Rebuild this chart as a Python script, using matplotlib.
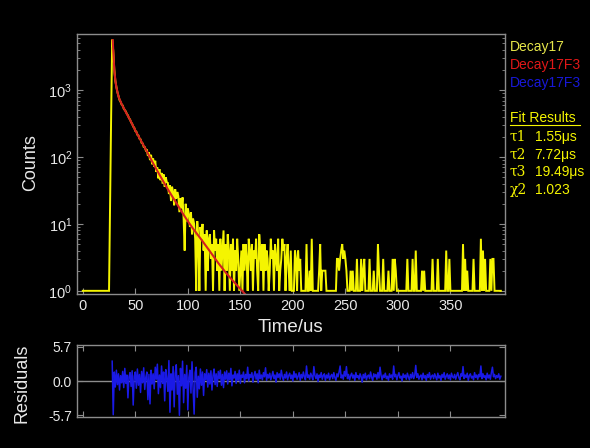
"""Fluorescence decay with triple-exponential fit and residuals."""

import matplotlib

matplotlib.use("Agg")
import matplotlib.pyplot as plt
import numpy as np
from matplotlib.ticker import FixedLocator, LogLocator, NullFormatter

# Decay counts, one bin per microsecond from t = 0 (zero counts shown as 1)
counts = (
    [1] * 25
    + [1, 20, 400, 5700]
    + [3900, 2050, 1380, 1120, 930, 820, 710, 670, 610, 590, 530, 505]
    + [480, 440, 420, 380, 365, 330, 315, 285, 275, 245]
    + [240, 215, 210, 188, 184, 163, 160, 142, 141, 126]
    + [130, 104, 118, 90, 108, 78, 95, 72, 88, 60]
    + [70, 48, 66, 45, 58, 40, 55, 36, 50, 42]
    + [41, 28, 38, 22, 36, 30, 19, 33, 24, 30]
    + [26, 15, 24, 17, 25, 12, 4, 20, 11, 17]
    + [14, 9, 15, 7, 12, 10, 6, 1, 11, 6]
    + [1, 9, 6, 10, 4, 7, 1, 8, 2, 6]
    + [7, 3, 5, 1, 8, 4, 6, 2, 5, 1]
    + [6, 2, 4, 8, 1, 5, 2, 7, 4, 1]
    + [5, 2, 6, 1, 4, 2, 6, 3, 1, 2]
    + [4, 1, 5, 2, 5, 3, 1, 6, 4, 2]
    + [5, 1, 4, 3, 6, 2, 1, 7, 4, 2]
    + [5, 1, 5, 2, 4, 3, 1, 2, 6, 3]
    + [4, 1, 5, 3, 2, 6, 1, 2, 3, 6]
    + [4, 5, 1, 3, 5, 2, 1, 4, 1, 1]
    + [1, 4, 3, 1, 4, 2, 3, 1, 1, 1]
    + [1, 1, 5, 1, 1, 2, 1, 6, 1, 1]
    + [1, 1, 1, 1, 2, 5, 1, 2, 2, 2]
    + [2, 1, 1, 1, 1, 1, 1, 1, 1, 1]
    + [1, 3, 3, 2, 3, 4, 5, 3, 4, 3]
    + [2, 1, 1, 1, 2, 1, 2, 1, 1, 1]
    + [3, 1, 1, 1, 3, 1, 2, 3, 1, 1]
    + [1, 1, 3, 1, 1, 1, 2, 1, 1, 1]
    + [5, 2, 1, 1, 1, 3, 1, 1, 1, 1]
    + [2, 1, 1, 1, 3, 1, 3, 2, 1, 1]
    + [1, 1, 1, 1, 1, 1, 1, 1, 3, 1]
    + [1, 1, 1, 3, 1, 1, 4, 1, 1, 1]
    + [1, 1, 2, 1, 2, 1, 1, 1, 1, 1]
    + [1, 1, 3, 1, 1, 1, 1, 3, 1, 1]
    + [1, 1, 1, 1, 1, 4, 1, 1, 3, 1]
    + [1, 1, 1, 1, 1, 1, 1, 1, 1, 1]
    + [1, 5, 1, 3, 1, 2, 1, 1, 1, 1]
    + [1, 3, 1, 1, 1, 1, 1, 1, 6, 1]
    + [4, 1, 3, 1, 1, 1, 1, 3, 1, 3]
    + [3, 1, 1, 1, 1, 1, 1, 1]
)

# Fit curve (Decay17F3)
fit_time = [28.5, 29, 30, 31, 32, 34, 37, 41, 45, 50, 55, 60, 65, 70, 75, 80,
            85, 90, 95, 100, 105, 113, 121, 129, 137, 145, 153, 160]
fit_counts = [5600, 4000, 2000, 1400, 1100, 800, 620, 470, 360, 250, 180, 130,
              92, 66, 48, 35, 26, 19.5, 14.5, 11, 8.5, 5.8, 3.9, 2.6, 1.8,
              1.3, 0.95, 0.7]

# Weighted residuals, one per microsecond from t = 28
residuals = [
    3.3, -5.6, 1.5, -1.0, 1.8, -0.6, 1.2, -1.5, 0.9, -0.3,
    1.6, -1.1, 2.1, -0.4, 1.0, -2.8, 0.7, 1.4, -0.9, 1.7,
    -4.0, 0.8, 1.5, -1.2, 2.0, -0.7, 1.1, -1.9, 1.6, -0.3,
    2.2, -1.4, 0.6, 1.5, -3.1, 1.1, -3.8, 1.8, -0.5, 1.2,
    -1.3, 2.3, 0.3, 2.8, -2.1, 1.0, -1.1, 2.5, -0.4, 1.5,
    -3.3, 1.9, 0.4, -1.7, 3.4, -5.2, 1.2, -1.5, 2.4, -4.3,
    1.3, 2.7, -2.2, 0.9, -5.7, 2.1, -0.8, 3.3, -3.6, 1.1,
    -1.2, 2.6, -4.8, 0.6, 1.8, -2.0, 3.2, -1.0, -5.5, 1.4,
    2.3, -2.7, 0.8, -1.3, 2.0, -0.7, 1.5, -2.4, 1.2, 0.2,
    1.9, -1.0, 1.3, -0.5, 1.7, -1.5, 0.9, 2.0, -0.6, 1.2,
    -0.9, 1.6, 0.4, 1.8, -0.7, 1.1, -1.1, 1.5, 0.3, 1.7,
    -0.5, 1.3, 0.2, 2.1, -0.8, 1.0, 0.5, 1.6, -0.4, 1.2,
    0.1, 1.8, -0.4, 1.0, 0.6, 1.5, -0.3, 1.1, 0.4, 2.3,
    0.0, 1.1, 0.6, 1.4, -0.2, 0.9, 1.6, 0.3, 1.2, -0.3,
    1.8, 0.4, 1.0, 0.2, 1.4, 0.7, 2.2, 0.1, 1.1, 0.5,
    1.3, 0.2, 0.8, 1.6, 0.4, 1.0, -0.2, 1.4, 0.6, 1.2,
    0.3, 1.8, 0.7, 0.1, 1.1, 0.5, 1.5, 0.2, 0.9, 1.3,
    0.4, 1.0, 0.0, 1.6, 0.6, 1.2, 0.3, 0.8, 1.4, 0.1,
    1.1, 0.5, 1.5, 0.7, 0.2, 2.5, 0.6, 1.0, 0.3, 1.3,
    0.8, 0.2, 2.4, 0.9, 0.4, 1.2, -0.1, 1.0, 0.6, 1.4,
    0.3, 0.9, 1.2, 0.1, 1.0, 0.5, 1.3, 0.2, 0.8, 1.1,
    0.4, 1.4, 0.6, 0.1, 1.2, 0.7, 1.5, 2.5, 0.5, 1.0,
    0.3, 1.6, 0.8, 2.4, 0.4, 1.1, 0.2, 0.9, 1.3, 0.5,
    1.0, 0.1, 1.4, 0.6, 0.9, 0.3, 1.2, 0.7, -0.2, 1.1,
    0.5, 1.3, 0.2, 0.8, 1.0, 0.4, 1.5, 0.6, 0.1, 1.2,
    0.7, 1.1, 0.3, 1.4, 0.5, 2.3, 0.9, 0.2, 1.0, 0.6,
    1.3, 0.4, 0.8, 0.1, 1.2, 0.6, 1.0, 0.3, 2.5, 0.7,
    1.1, 0.2, 0.9, 1.4, 0.5, 0.8, 0.0, 1.2, 0.6, 1.0,
    0.3, 1.3, 0.7, 0.2, 1.1, 0.5, 1.4, 0.4, 0.9, 2.6,
    0.6, 1.2, 0.3, 0.8, 1.0, 0.2, 1.3, 0.5, 0.9, 0.1,
    1.1, 0.6, 1.4, 0.3, 0.8, 1.0, 0.4, 1.2, 0.7, 0.2,
    1.3, 0.5, 0.9, 0.1, 1.1, 0.6, 1.4, 0.3, 0.8, 1.2,
    0.4, 1.0, 0.2, 1.3, 0.7, 0.5, 1.1, 0.3, 0.9, 1.4,
    0.6, 0.2, 1.2, 0.8, 2.4, 0.4, 1.0, 0.6, 1.3, 0.1,
    0.9, 1.2, 0.5, 0.8, 0.2, 1.4, 0.6, 1.0, 0.3, 1.1,
    0.7, 2.5, 0.4, 1.2, 0.6, 0.9, 0.2, 1.3, 0.5, 1.0,
    0.3, 1.4, 2.3, 0.7, 1.1, 0.4, 0.9, 0.6, 1.2, 0.3,
    0.8,
]

legend_entries = [("Decay17", "#e6e64a"), ("Decay17F3", "#e01818"), ("Decay17F3", "#1818d8")]
fit_labels = ["τ1", "τ2", "τ3", "χ2"]
fit_values = ["1.55μs", "7.72μs", "19.49μs", "1.023"]

FRAME = "#8c8c8c"
TEXT = "#e8e8e8"
YELLOW = "#f5f500"

plt.rcParams["font.family"] = ["Liberation Sans", "DejaVu Sans"]
plt.rcParams["mathtext.fontset"] = "custom"
plt.rcParams["mathtext.rm"] = "Liberation Sans"

fig = plt.figure(figsize=(5.9, 4.48), dpi=100, facecolor="black")
ax = fig.add_axes([0.1305, 0.344, 0.7255, 0.580], facecolor="black")
ax_res = fig.add_axes([0.1305, 0.069, 0.7255, 0.161], facecolor="black")

time = np.arange(len(counts))
ax.plot(time, counts, color=YELLOW, linewidth=1.4, solid_joinstyle="miter")
ax.plot(fit_time, fit_counts, color="#d42020", linewidth=1.5)
ax.set_yscale("log")
ax.set_xlim(-5.5, 402)
ax.set_ylim(0.9, 6900)
ax.set_xticks(np.arange(0, 400, 50))
ax.yaxis.set_major_locator(LogLocator(base=10))
ax.yaxis.set_minor_locator(LogLocator(base=10, subs=np.arange(2, 10)))
ax.yaxis.set_minor_formatter(NullFormatter())

res_time = np.arange(28, 28 + len(residuals))
ax_res.axhline(0, color=FRAME, linewidth=1.0)
ax_res.plot(res_time, residuals, color="#1a1ae6", linewidth=1.1)
ax_res.set_xlim(-5.5, 402)
ax_res.set_ylim(-6.0, 6.0)
ax_res.yaxis.set_major_locator(FixedLocator([-5.7, 0.0, 5.7]))
ax_res.set_yticklabels(["-5.7", "0.0", "5.7"])
ax_res.set_xticks(np.arange(0, 400, 50))
ax_res.set_xticklabels([])

for a in (ax, ax_res):
    for spine in a.spines.values():
        spine.set_color(FRAME)
        spine.set_linewidth(1.0)
    a.tick_params(which="both", direction="in", color=FRAME, labelcolor=TEXT,
                  labelsize=10.5, left=True, right=True)
    a.tick_params(which="major", length=4)
    a.tick_params(which="minor", length=2)
ax_res.tick_params(top=True, labelsize=10)

fig.text(0.052, 0.638, "Counts", color=TEXT, fontsize=13, rotation=90,
         ha="center", va="center")
fig.text(0.038, 0.145, "Residuals", color=TEXT, fontsize=13, rotation=90,
         ha="center", va="center")
fig.text(0.493, 0.268, "Time/us", color=TEXT, fontsize=13.5, ha="center", va="center")

x_leg = 0.864
for i, (label, color) in enumerate(legend_entries):
    fig.text(x_leg, 0.895 - i * 0.04, label, color=color, fontsize=10, va="center")

fig.text(x_leg, 0.737, "Fit Results", color=YELLOW, fontsize=10, va="center")
fig.add_artist(plt.Line2D([x_leg, 0.983], [0.720, 0.720], color=YELLOW, linewidth=0.8))
for i, (lab, val) in enumerate(zip(fit_labels, fit_values)):
    y = 0.694 - i * 0.039
    fig.text(x_leg, y, lab, color=YELLOW, fontsize=10, va="center", family="DejaVu Serif")
    fig.text(0.906, y, val, color=YELLOW, fontsize=10, va="center")

fig.savefig("out.png", dpi=100, facecolor="black")
